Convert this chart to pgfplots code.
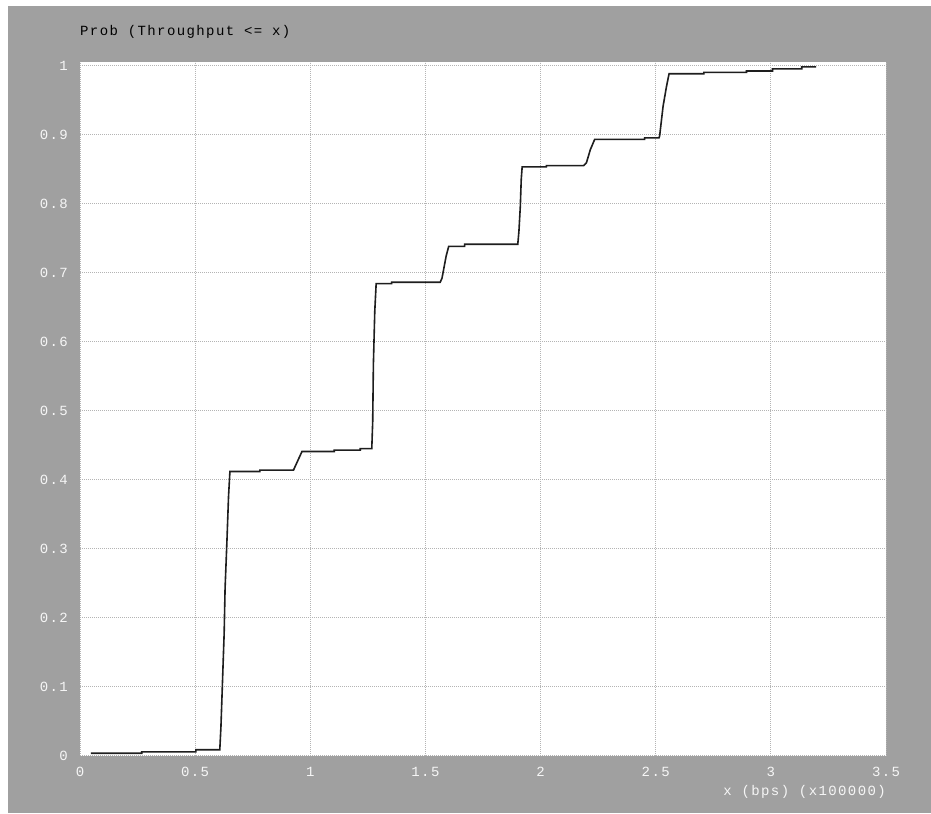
\documentclass[border=0pt]{standalone}
\usepackage{fontspec}
\usepackage{pgfplots}
\pgfplotsset{compat=1.18}
\newfontfamily\mono[LetterSpace=10]{Liberation Mono}
\definecolor{panel}{HTML}{A0A0A0}
\definecolor{gridgray}{HTML}{B4B4B4}
\definecolor{curve}{HTML}{1E1E1E}
\definecolor{labelwhite}{HTML}{F6F6F6}
\newcommand{\labelfont}{\mono\fontsize{14bp}{16bp}\selectfont}
\begin{document}
\begin{tikzpicture}[x=1bp,y=1bp]
% window frame
\fill[white] (0,0) rectangle (931,814);
\fill[panel] (8,1) rectangle (931,808);
\begin{axis}[
  at={(80bp,58bp)}, anchor=south west,
  scale only axis, width=806bp, height=694bp,
  xmin=0, xmax=3.5, ymin=0, ymax=1.005,
  xtick={0,0.5,...,3.5}, ytick={0,0.1,...,1},
  axis background/.style={fill=white},
  axis line style={draw=none},
  major tick length=0pt,
  grid=major,
  major grid style={gridgray, line width=1bp, dash pattern=on 1bp off 1bp},
  /pgf/number format/assume math mode=true,
  ticklabel style={font=\labelfont, text=labelwhite, inner sep=0pt},
  xticklabel style={anchor=base, yshift=-21bp},
  yticklabel style={anchor=east, xshift=-12bp},
  clip=false,
]
\addplot[curve, line width=1.6bp, line join=miter] coordinates {
 (0.047,0.004)(0.268,0.004)(0.268,0.006)(0.503,0.006)(0.503,0.009)(0.607,0.009)
 (0.612,0.042)(0.619,0.110)(0.626,0.178)(0.630,0.243)(0.638,0.311)(0.645,0.376)(0.651,0.412)
 (0.781,0.412)(0.781,0.414)(0.927,0.414)(0.964,0.441)(1.104,0.441)(1.104,0.443)
 (1.217,0.443)(1.217,0.445)(1.267,0.445)
 (1.271,0.484)(1.274,0.567)(1.280,0.644)(1.286,0.684)
 (1.353,0.684)(1.353,0.686)(1.564,0.686)(1.572,0.692)(1.590,0.724)(1.601,0.738)
 (1.670,0.738)(1.670,0.741)(1.901,0.741)
 (1.906,0.760)(1.912,0.796)(1.916,0.835)(1.920,0.853)
 (2.025,0.853)(2.025,0.855)(2.187,0.855)(2.199,0.859)(2.216,0.878)(2.235,0.893)
 (2.452,0.893)(2.452,0.895)(2.514,0.895)(2.517,0.898)(2.532,0.941)(2.547,0.970)(2.558,0.988)
 (2.709,0.988)(2.709,0.990)(2.894,0.990)(2.894,0.992)(3.007,0.992)(3.007,0.995)
 (3.134,0.995)(3.134,0.998)(3.196,0.998)
};
\end{axis}
% titles
\node[anchor=base west, inner sep=0pt, font=\labelfont, text=black] at (80,778) {Prob (Throughput <= x)};
\node[anchor=base east, inner sep=0pt, font=\labelfont, text=labelwhite] at (886,18) {x (bps) (x100000)};
\pgfresetboundingbox
\path[use as bounding box] (0,0) rectangle (931,814);
\end{tikzpicture}
\end{document}
